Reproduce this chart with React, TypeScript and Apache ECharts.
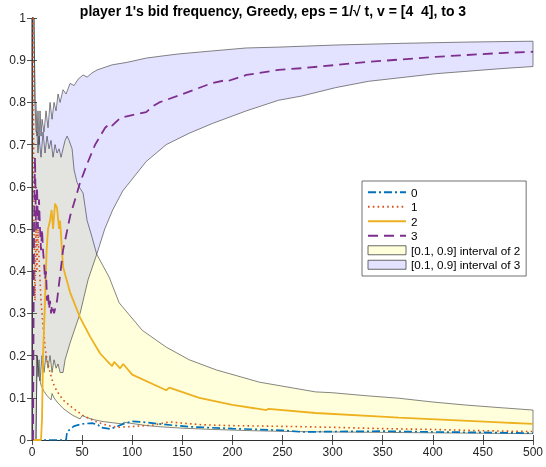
import React, { useEffect, useRef } from "react";
import * as echarts from "echarts";

const titleText = "player 1's bid frequency, Greedy, eps = 1/\u221A t, v = [4  4], to 3";
const seriesNames = ["0", "1", "2", "3", "[0.1, 0.9] interval of 2", "[0.1, 0.9] interval of 3"];

const bid0: number[][] = [[1,0],[34,0],[35,0.02],[38,0.025],[42,0.033],[50,0.038],[60,0.04],[66,0.036],[68,0.03],[78,0.026],[86,0.033],[93,0.04],[100,0.044],[108,0.043],[120,0.04],[140,0.035],[160,0.031],[200,0.027],[250,0.023],[270,0.019],[300,0.02],[350,0.021],[400,0.019],[450,0.018],[500,0.016]];
const bid1: number[][] = [[1,1],[2,0.5],[3,0.33],[4,0.5],[5,0.4],[6,0.5],[7,0.43],[8,0.38],[9,0.33],[10,0.3],[11,0.27],[12,0.25],[13,0.22],[15,0.19],[18,0.16],[21,0.135],[25,0.115],[31,0.095],[41,0.075],[51,0.058],[65,0.042],[75,0.035],[85,0.03],[100,0.032],[120,0.035],[137,0.043],[150,0.04],[170,0.036],[200,0.034],[230,0.033],[260,0.032],[300,0.03],[350,0.027],[400,0.025],[450,0.022],[500,0.02]];
const bid2: number[][] = [[1,0],[9,0],[10,0.05],[11,0.2],[13,0.33],[14.6,0.45],[16,0.5],[18,0.52],[19.6,0.545],[21,0.5],[23,0.56],[25,0.55],[27,0.5],[28,0.52],[31,0.41],[38,0.35],[48,0.29],[58,0.245],[68,0.205],[77,0.182],[80,0.175],[82,0.185],[88,0.17],[91,0.18],[100,0.155],[134,0.118],[137,0.124],[167,0.1],[200,0.083],[234,0.071],[236,0.074],[283,0.064],[353,0.055],[366,0.053],[430,0.046],[500,0.038]];
const bid3: number[][] = [[1,0],[2,0.5],[3,0.67],[4,0.5],[5,0.6],[6,0.5],[7,0.57],[8,0.5],[9,0.45],[10,0.5],[11,0.45],[12,0.42],[13,0.38],[14,0.4],[15,0.33],[16,0.35],[17,0.31],[18,0.33],[19,0.3],[20,0.32],[22,0.3],[25,0.33],[31,0.45],[38,0.53],[48,0.61],[56,0.66],[63,0.7],[73,0.74],[78,0.75],[80,0.745],[88,0.763],[100,0.77],[114,0.777],[120,0.79],[127,0.8],[147,0.817],[180,0.846],[194,0.853],[196,0.851],[214,0.865],[246,0.877],[269,0.881],[336,0.896],[403,0.908],[468,0.917],[500,0.92]];

const band2Upper: number[][] = [[0,1],[2,1],[3,0.8],[4,0.73],[5,0.73],[6,0.68],[7,0.72],[9,0.67],[11,0.73],[13,0.68],[15,0.72],[17,0.69],[19,0.71],[21,0.67],[23,0.7],[25,0.68],[27,0.69],[29,0.67],[31,0.69],[33,0.71],[35,0.72],[37,0.71],[40,0.69],[42,0.64],[45,0.61],[47,0.6],[51,0.585],[55,0.52],[60,0.48],[64.6,0.44],[77,0.386],[87,0.325],[110,0.26],[134,0.22],[157,0.19],[184,0.166],[227,0.137],[283,0.114],[300,0.112],[333,0.105],[366,0.099],[400,0.09],[432,0.083],[465,0.077],[500,0.071]];
const band2Lower: number[][] = [[0,0],[4,0],[5,0.2],[7,0.15],[9,0.13],[12,0.115],[15,0.105],[19,0.095],[20,0.11],[22,0.1],[25,0.09],[31,0.075],[36,0.066],[41,0.058],[48,0.05],[50,0.058],[55,0.053],[62,0.048],[70,0.044],[80,0.041],[90,0.038],[92,0.042],[100,0.039],[115,0.034],[130,0.031],[150,0.028],[180,0.025],[220,0.022],[260,0.02],[300,0.019],[350,0.018],[400,0.017],[450,0.016],[500,0.015]];
const band3Upper: number[][] = [[0,1],[2,1],[3,0.8],[4,0.8],[5,0.72],[6,0.78],[7,0.7],[8,0.78],[9,0.72],[10,0.76],[12,0.73],[14,0.78],[16,0.74],[18,0.8],[20,0.76],[22,0.8],[24,0.78],[26,0.82],[28,0.8],[31,0.83],[34,0.82],[38,0.845],[42,0.84],[46,0.855],[51,0.865],[55,0.86],[60,0.87],[65,0.877],[80,0.889],[95,0.895],[114,0.905],[130,0.91],[147,0.915],[180,0.922],[214,0.929],[246,0.931],[303,0.936],[370,0.94],[435,0.943],[500,0.945]];
const band3Lower: number[][] = [[0,0],[4,0],[5,0.2],[6,0.15],[7,0.19],[8,0.14],[10,0.2],[12,0.16],[14,0.2],[16,0.17],[18,0.2],[20,0.16],[22,0.19],[24,0.17],[26,0.18],[28,0.16],[31,0.16],[33,0.19],[38,0.23],[48,0.3],[56,0.38],[64.6,0.44],[72.6,0.5],[80.5,0.545],[90.5,0.59],[114,0.66],[134,0.7],[157,0.727],[180,0.75],[214,0.78],[246,0.805],[269,0.815],[303,0.835],[336,0.85],[403,0.868],[468,0.88],[500,0.885]];

const FONT = "'Liberation Sans', Arial, Helvetica, sans-serif";
const AX = "#262626";

function bandSeries(name: string, upper: number[][], lower: number[][], fill: string, legendColor: string) {
  return {
    type: "custom",
    name,
    data: [[0, 0]],
    itemStyle: { color: legendColor },
    z: 1,
    renderItem: (_params: any, api: any) => {
      const pts = upper.map((p) => api.coord(p)).concat(lower.slice().reverse().map((p) => api.coord(p)));
      return {
        type: "polygon",
        shape: { points: pts },
        style: { fill, stroke: "#333333", lineWidth: 0.6 },
      };
    },
  };
}

export default function App() {
  const ref = useRef<HTMLDivElement>(null);
  useEffect(() => {
    if (!ref.current) return;
    const chart = echarts.init(ref.current, undefined, { renderer: "svg" });
    const baseX = { type: "value", min: 0, max: 500, interval: 50 };
    const baseY = { type: "value", min: 0, max: 1, interval: 0.1 };
    const tick = { show: true, inside: true, length: 5, lineStyle: { color: AX, width: 0.8 } };
    const line = { show: true, lineStyle: { color: AX, width: 0.8 } };
    chart.setOption({
      animation: false,
      title: {
        text: titleText,
        left: "center",
        top: -1,
        textStyle: { fontFamily: FONT, fontSize: 14, fontWeight: "bold", color: "#000" },
      },
      grid: { left: 32, right: 11, top: 18, bottom: 27, containLabel: false },
      xAxis: [
        {
          ...baseX,
          position: "bottom",
          axisLine: line,
          axisTick: tick,
          splitLine: { show: false },
          axisLabel: { fontFamily: FONT, fontSize: 12, color: AX, margin: 6 },
        },
        {
          ...baseX,
          position: "top",
          axisLine: line,
          axisTick: tick,
          splitLine: { show: false },
          axisLabel: { show: false },
        },
      ],
      yAxis: [
        {
          ...baseY,
          position: "left",
          axisLine: line,
          axisTick: tick,
          splitLine: { show: false },
          axisLabel: {
            fontFamily: FONT,
            fontSize: 12,
            color: AX,
            margin: 6,
            formatter: (v: number) => String(+v.toFixed(1)),
          },
        },
        {
          ...baseY,
          position: "right",
          axisLine: line,
          axisTick: tick,
          splitLine: { show: false },
          axisLabel: { show: false },
        },
      ],
      legend: {
        orient: "vertical",
        left: 362,
        top: 181,
        padding: [4, 6, 4, 5],
        itemWidth: 38,
        itemHeight: 9,
        itemGap: 0,
        backgroundColor: "#fff",
        borderColor: "#333",
        borderWidth: 0.7,
        borderRadius: 0,
        selectedMode: false,
        textStyle: { fontFamily: FONT, fontSize: 11.7, color: "#000", lineHeight: 14.5 },
        data: [
          { name: seriesNames[0], itemStyle: { opacity: 0 } },
          { name: seriesNames[1], itemStyle: { opacity: 0 } },
          { name: seriesNames[2], itemStyle: { opacity: 0 } },
          { name: seriesNames[3], itemStyle: { opacity: 0 } },
          { name: seriesNames[4], icon: "rect", itemStyle: { color: "#FFFFDB", borderColor: "#444", borderWidth: 0.8 } },
          { name: seriesNames[5], icon: "rect", itemStyle: { color: "#E3E3FF", borderColor: "#444", borderWidth: 0.8 } },
        ],
      },
      series: [
        bandSeries(seriesNames[4], band2Upper, band2Lower, "rgba(255,255,0,0.14)", "#FFFFDB"),
        bandSeries(seriesNames[5], band3Upper, band3Lower, "rgba(0,0,255,0.11)", "#E3E3FF"),
        {
          type: "line", name: seriesNames[0], data: bid0, symbol: "none", z: 3,
          itemStyle: { color: "#0072BD" },
          lineStyle: { color: "#0072BD", width: 1.7, type: [8, 3, 2, 3] },
        },
        {
          type: "line", name: seriesNames[1], data: bid1, symbol: "none", z: 3,
          itemStyle: { color: "#D95319" },
          lineStyle: { color: "#D95319", width: 1.6, type: [1.6, 3.2] },
        },
        {
          type: "line", name: seriesNames[2], data: bid2, symbol: "none", z: 3,
          itemStyle: { color: "#EDB120" },
          lineStyle: { color: "#EDB120", width: 1.8, type: "solid" },
        },
        {
          type: "line", name: seriesNames[3], data: bid3, symbol: "none", z: 3,
          itemStyle: { color: "#7E2F8E" },
          lineStyle: { color: "#7E2F8E", width: 1.8, type: [10, 6] },
        },
      ],
    });
    return () => chart.dispose();
  }, []);
  return <div ref={ref} style={{ position: "fixed", left: 0, top: 0, width: 546, height: 467 }} />;
}
